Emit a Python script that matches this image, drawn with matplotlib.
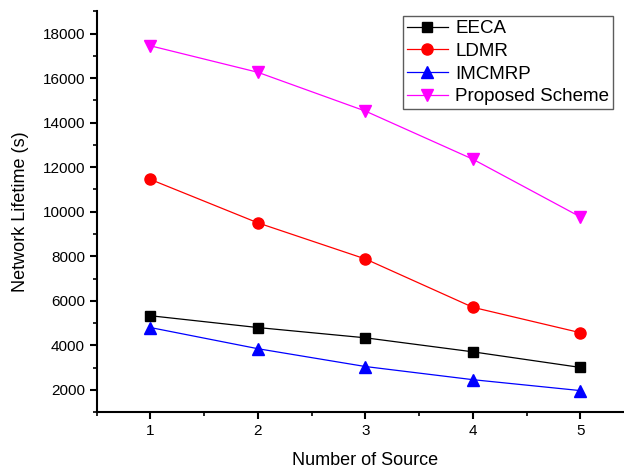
import matplotlib
matplotlib.use("Agg")
import matplotlib.pyplot as plt
from matplotlib.ticker import MultipleLocator

plt.rcParams["font.family"] = ["Liberation Sans", "DejaVu Sans"]

# Data
sources = [1, 2, 3, 4, 5]
eeca = [5330, 4800, 4340, 3710, 3010]
ldmr = [11450, 9500, 7880, 5710, 4570]
imcmrp = [4800, 3850, 3050, 2460, 1970]
proposed = [17450, 16260, 14520, 12360, 9770]

fig = plt.figure(figsize=(6.24, 4.70), dpi=100)
ax = fig.add_axes([0.155, 0.123, 0.861, 0.853])

ax.plot(sources, eeca, color="black", marker="s", markersize=7, lw=0.9, label="EECA")
ax.plot(sources, ldmr, color="red", marker="o", markersize=8, lw=0.9, label="LDMR")
ax.plot(sources, imcmrp, color="blue", marker="^", markersize=8, lw=0.9, label="IMCMRP")
ax.plot(sources, proposed, color="magenta", marker="v", markersize=8, lw=0.9,
        label="Proposed Scheme")

ax.set_xlim(0.5, 5.5)
ax.set_ylim(1000, 19000)
ax.set_xticks(sources)
ax.xaxis.set_minor_locator(MultipleLocator(0.5))
ax.yaxis.set_minor_locator(MultipleLocator(1000))
ax.set_yticks(range(2000, 18001, 2000))

for s in ("top", "right"):
    ax.spines[s].set_visible(False)
for s in ("left", "bottom"):
    ax.spines[s].set_linewidth(1.5)
ax.tick_params(which="major", direction="out", length=5, width=1.5, labelsize=11)
ax.tick_params(which="minor", direction="out", length=3, width=1.2)

ax.set_xlabel("Number of Source", fontsize=13, labelpad=10)
ax.set_ylabel("Network Lifetime (s)", fontsize=13, labelpad=10)

leg = ax.legend(loc="upper right", bbox_to_anchor=(0.961, 0.9875), fontsize=13.5,
                frameon=True, fancybox=False, handlelength=2.2, borderaxespad=0,
                borderpad=0.2, labelspacing=0.3, handletextpad=0.4)
leg.get_frame().set_edgecolor("#333333")
leg.get_frame().set_linewidth(1.0)

fig.savefig("out.png", dpi=100)
